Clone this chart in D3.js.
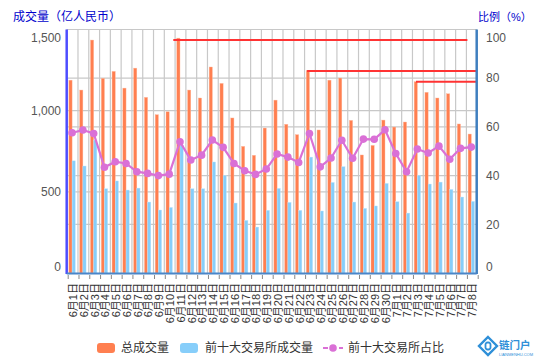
<!DOCTYPE html>
<html><head><meta charset="utf-8">
<script src="https://cdn.jsdelivr.net/npm/d3@7"></script>
<style>body{margin:0;background:#fff}svg{display:block}text{font-family:"Liberation Sans","Noto Sans CJK SC",sans-serif}</style>
</head><body><svg id="c" width="535" height="360"></svg>
<script>
const dates = ["6月1日","6月2日","6月3日","6月4日","6月5日","6月6日","6月7日","6月8日","6月9日","6月10日","6月11日","6月12日","6月13日","6月14日","6月15日","6月16日","6月17日","6月18日","6月19日","6月20日","6月21日","6月22日","6月23日","6月24日","6月25日","6月26日","6月27日","6月28日","6月29日","6月30日","7月1日","7月2日","7月3日","7月4日","7月5日","7月6日","7月7日","7月8日"];
const totalVolume = [1188,1127,1435,1199,1242,1139,1262,1082,975,993,1447,1127,1078,1269,1168,955,780,725,893,1065,916,852,1248,881,1188,1201,940,727,786,942,899,930,1178,1113,1078,1104,918,856];
const top10Volume = [691,659,819,519,567,511,523,437,388,404,788,519,519,684,601,431,324,283,386,521,435,386,714,382,558,655,437,398,413,552,439,369,601,548,560,515,468,441];
const top10Share = [57.6,58.7,57.3,43.4,45.7,45.0,41.6,40.9,40.0,40.6,53.9,46.4,48.4,54.6,51.6,45.0,42.0,40.5,42.7,48.9,47.6,45.4,57.3,43.6,47.2,54.5,47.1,55.0,54.9,58.8,49.1,41.6,50.9,49.3,52.1,46.7,51.2,51.7];
const leftTicks = [0,500,1000,1500];
const rightTicks = [0,20,40,60,80,100];
const refLineFrom = ["6月11日","6月23日","7月3日"];
const refLineTo = ["7月8日",null,null];
const refLineValue = [1435,1244,1178];
const seriesNames = ["总成交量","前十大交易所成交量","前十大交易所占比"];
const leftTitle = "成交量（亿人民币）";
const rightTitle = "比例（%）";

const svg = d3.select("#c");
const L=66.7, R=476.7, T=29.5, B=273;
const x = d3.scaleBand().domain(dates).range([L,R]).padding(0);
const yL = d3.scaleLinear().domain([0,1500]).range([B,T]);
const yR = d3.scaleLinear().domain([0,100]).range([B,T]);
const bw = x.bandwidth();
const sub = d3.scaleBand().domain(["t","p"]).range([bw/2-3.2, bw/2+3.2]);

const C = {orange:"#FF7F50", blue:"#87CEFA", line:"#DA70D6", grid:"#c8c8c8", red:"#FF3333"};

// gridlines
const g = svg.append("g");
g.selectAll(".vg").data(dates.slice(1)).join("line")
  .attr("x1",d=>x(d)+0.5).attr("x2",d=>x(d)+0.5).attr("y1",T).attr("y2",B)
  .attr("stroke",C.grid).attr("stroke-width",1.2);
g.selectAll(".hl").data(leftTicks.slice(1)).join("line")
  .attr("x1",L).attr("x2",R).attr("y1",d=>yL(d)).attr("y2",d=>yL(d))
  .attr("stroke",C.grid).attr("stroke-width",1.2);
g.selectAll(".hr").data(rightTicks.slice(1)).join("line")
  .attr("x1",L).attr("x2",R).attr("y1",d=>yR(d)).attr("y2",d=>yR(d))
  .attr("stroke",C.grid).attr("stroke-width",1.2);

// bars
svg.append("g").selectAll("rect").data(dates).join("rect")
  .attr("x",d=>x(d)+sub("t")).attr("width",sub.bandwidth())
  .attr("y",(d,i)=>yL(totalVolume[i])).attr("height",(d,i)=>B-yL(totalVolume[i]))
  .attr("fill",C.orange).attr("stroke","#ffb89c").attr("stroke-width",0.4);
svg.append("g").selectAll("rect").data(dates).join("rect")
  .attr("x",d=>x(d)+sub("p")).attr("width",sub.bandwidth())
  .attr("y",(d,i)=>yL(top10Volume[i])).attr("height",(d,i)=>B-yL(top10Volume[i]))
  .attr("fill",C.blue).attr("stroke","#c4e6fb").attr("stroke-width",0.4);

// red reference lines
const refOff = [-1.3,3,4];
svg.append("g").selectAll("line").data(refLineValue).join("line")
  .attr("x1",(v,i)=>x(refLineFrom[i])+refOff[i])
  .attr("x2",(v,i)=>refLineTo[i]?x(refLineTo[i])+1.5:R)
  .attr("y1",v=>yL(v)).attr("y2",v=>yL(v))
  .attr("stroke",C.red).attr("stroke-width",2);

// line series
const lineGen = d3.line().x((d,i)=>x(dates[i])+bw/2).y(d=>yR(d));
svg.append("path").datum(top10Share).attr("d",lineGen)
  .attr("fill","none").attr("stroke",C.line).attr("stroke-width",2.2);
svg.append("g").selectAll("circle").data(top10Share).join("circle")
  .attr("cx",(d,i)=>x(dates[i])+bw/2).attr("cy",d=>yR(d)).attr("r",3.8)
  .attr("fill",C.line);

// axes lines
svg.append("line").attr("x1",L).attr("x2",L).attr("y1",T).attr("y2",B+1)
  .attr("stroke","#4d4dff").attr("stroke-width",2.5);
svg.append("line").attr("x1",R).attr("x2",R).attr("y1",T).attr("y2",B+1)
  .attr("stroke","#3f7fbf").attr("stroke-width",2.5);
svg.append("line").attr("x1",L).attr("x2",R).attr("y1",B+0.5).attr("y2",B+0.5)
  .attr("stroke","#4a86c8").attr("stroke-width",2);

// x ticks
svg.append("g").selectAll("line").data(dates.concat([null])).join("line")
  .attr("x1",(d,i)=>L+i*bw+1.5).attr("x2",(d,i)=>L+i*bw+1.5)
  .attr("y1",B+2).attr("y2",B+6).attr("stroke","#888").attr("stroke-width",1);

// x labels
svg.append("g").selectAll("text").data(dates).join("text")
  .attr("transform",d=>`translate(${x(d)+bw/2+1},${B+10}) rotate(-90)`)
  .attr("text-anchor","end").attr("dy","0.35em")
  .attr("font-size",11).attr("fill","#333").text(d=>d);

// y tick labels
const clampY = y => Math.min(Math.max(y, T+8.5), B-6);
svg.append("g").selectAll("text").data(leftTicks).join("text")
  .attr("x",61).attr("y",d=>clampY(yL(d))).attr("dy","0.35em")
  .attr("text-anchor","end").attr("font-size",12).attr("fill","#555")
  .text(d=>d3.format(",")(d));
svg.append("g").selectAll("text").data(rightTicks).join("text")
  .attr("x",486).attr("y",d=>clampY(yR(d))).attr("dy","0.35em")
  .attr("text-anchor","start").attr("font-size",12).attr("fill","#555")
  .text(d=>d);

// titles
svg.append("text").attr("x",13).attr("y",21).attr("font-size",12).attr("fill","#0000cc").text(leftTitle);
svg.append("text").attr("x",478).attr("y",21).attr("font-size",11).attr("fill","#0000cc").text(rightTitle);

// legend
const lg = svg.append("g");
const ly = 348;
lg.append("rect").attr("x",97).attr("y",ly-5).attr("width",18).attr("height",10).attr("rx",3).attr("fill",C.orange);
lg.append("text").attr("x",121).attr("y",ly).attr("dy","0.35em").attr("font-size",12).attr("fill","#333").text(seriesNames[0]);
lg.append("rect").attr("x",180).attr("y",ly-5).attr("width",18).attr("height",10).attr("rx",3).attr("fill",C.blue);
lg.append("text").attr("x",205).attr("y",ly).attr("dy","0.35em").attr("font-size",12).attr("fill","#333").text(seriesNames[1]);
lg.append("line").attr("x1",323).attr("x2",343).attr("y1",ly).attr("y2",ly).attr("stroke",C.line).attr("stroke-width",2).attr("stroke-dasharray","5,3");
lg.append("circle").attr("cx",333).attr("cy",ly).attr("r",3.8).attr("fill",C.line);
lg.append("text").attr("x",348).attr("y",ly).attr("dy","0.35em").attr("font-size",12).attr("fill","#333").text(seriesNames[2]);

// logo watermark
const lo = svg.append("g").attr("transform","translate(488,346)");
lo.append("path").attr("d","M0,-9 L9,0 L0,9 L-9,0 Z").attr("fill","none").attr("stroke","#2e8fd8").attr("stroke-width",2.4);
lo.append("rect").attr("x",-2.5).attr("y",-3.5).attr("width",5).attr("height",7).attr("rx",2).attr("fill","none").attr("stroke","#2e8fd8").attr("stroke-width",1.8);
svg.append("text").attr("x",499).attr("y",349).attr("font-size",10.5).attr("font-weight","bold").attr("fill","#2e8fd8").text("链门户");
svg.append("text").attr("x",499).attr("y",355.5).attr("font-size",4).attr("fill","#2e8fd8").text("LIANMENHU.COM");
</script></body></html>
